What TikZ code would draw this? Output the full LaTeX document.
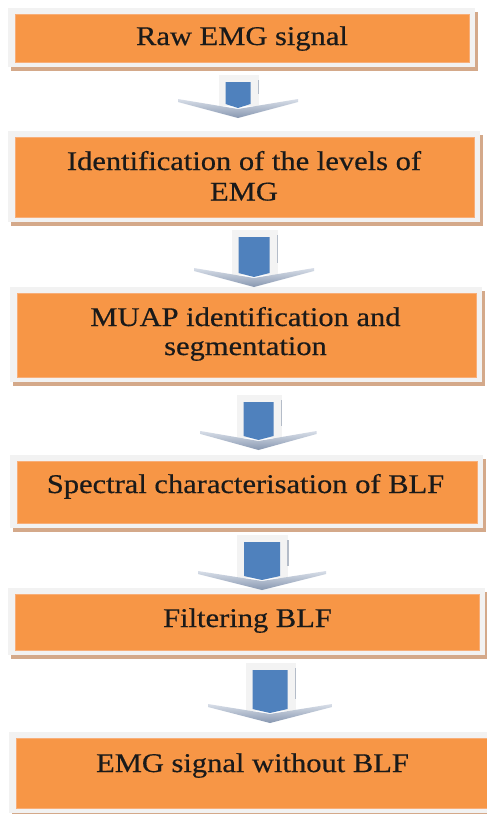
\documentclass[tikz,border=0pt]{standalone}
\usepackage{fontspec}
\setmainfont{Liberation Serif}[FakeStretch=1.13, FakeBold=0.5]
\definecolor{boxorange}{HTML}{F79646}
\definecolor{boxedge}{HTML}{F8AE78}
\definecolor{framegray}{HTML}{F2F2F2}
\definecolor{shadowtan}{HTML}{D4A98A}
\definecolor{arrowblue}{HTML}{4F81BD}
\definecolor{arrowbg}{HTML}{F3F3F3}
\definecolor{arrowline}{HTML}{B4BCC8}
\definecolor{chevtop}{HTML}{D8DEE8}
\definecolor{chevbot}{HTML}{8797B0}
\definecolor{textblack}{HTML}{1A1A1A}
\tikzset{
  orangebox/.style={rectangle, fill=boxorange, draw=boxedge, line width=0.8pt, inner sep=0pt},
  steptext/.style={font=\fontsize{27}{30.5}\selectfont, text=textblack, inner sep=0pt, align=center},
}
% #1 left frame x, #2 top frame y, #3 right frame x, #4 bottom frame y, #5 node name
\newcommand\flowbox[5]{%
  \fill[shadowtan] (#1+3,#2+4) rectangle (#3+3,#4+4);
  \fill[framegray] (#1,#2) rectangle (#3,#4);
  \node[orangebox, anchor=north west, minimum width={(#3-#1-13)*1pt}, minimum height={(#4-#2-11)*1pt}] (#5) at (#1+7,#2+6) {};
}
% #1 name, #2 cx, #3 body top, #4 tip y, #5 half body width, #6 half chevron width
\newcommand\flowarrow[6]{%
  \fill[arrowbg] (#2-#5-7,#3-7) rectangle (#2+#5+8,#4-12);
  \draw[arrowline, line width=1.6pt] (#2+#5+8,#3-2) -- (#2+#5+8,#4-24);
  \shade[top color=chevtop, bottom color=chevbot] (#2-#6,#4-19) -- (#2,#4-9) -- (#2+#6,#4-19) -- (#2+#6,#4-16) -- (#2,#4) -- (#2-#6,#4-16) -- cycle;
  \fill[arrowblue] (#2-#5,#3) -- (#2+#5,#3) -- (#2+#5,#4-14) -- (#2,#4-10) -- (#2-#5,#4-14) -- cycle;
  \coordinate (#1) at (#2,#4);
}
\begin{document}
\begin{tikzpicture}[x=1pt, y=-1pt]
\useasboundingbox (0,0) rectangle (487,814);
\clip (0,0) rectangle (487,814);
\fill[white] (0,0) rectangle (487,814);

\flowbox{8}{8}{475}{67}{b1}
\flowbox{8}{131}{480}{222}{b2}
\flowbox{10}{287}{482}{382}{b3}
\flowbox{10}{455}{483}{528}{b4}
\flowbox{8}{588}{485}{655}{b5}
\flowbox{9}{732}{503}{813}{b6}

\node[steptext, anchor=base] (t1) at (242,45) {Raw EMG signal};
\node[steptext, anchor=base] (t2a) at (244,170) {Identification of the levels of};
\node[steptext, anchor=base] (t2b) at (244,200.5) {EMG};
\node[steptext, anchor=base] (t3a) at (245.5,326) {MUAP identification and};
\node[steptext, anchor=base] (t3b) at (245.5,355) {segmentation};
\node[steptext, anchor=base] (t4) at (245.5,493) {Spectral characterisation of BLF};
\node[steptext, anchor=base] (t5) at (247.5,627) {Filtering BLF};
\node[steptext, anchor=base] (t6) at (252.5,772) {EMG signal without BLF};

\flowarrow{a1}{238}{82}{118}{12.5}{60}
\flowarrow{a2}{254}{237}{287}{15.5}{60}
\flowarrow{a3}{258.5}{402}{450}{15}{58}
\flowarrow{a4}{262}{542}{590}{18}{64}
\flowarrow{a5}{270}{670}{723}{17.5}{62}
\end{tikzpicture}
\end{document}
